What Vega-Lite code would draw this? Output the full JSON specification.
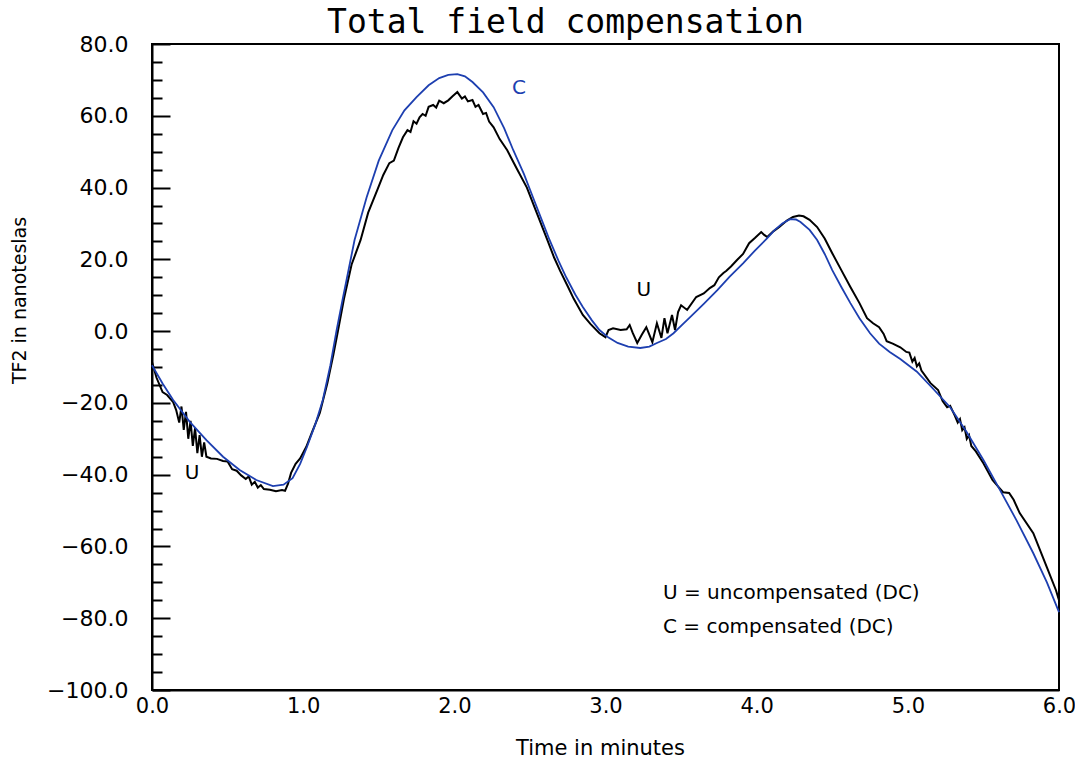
{
  "$schema": "https://vega.github.io/schema/vega-lite/v6.json",
  "width": 907,
  "height": 646,
  "autosize": {"type": "none"},
  "padding": {"left": 152, "top": 44, "right": 16, "bottom": 76},
  "background": "white",
  "config": {
    "view": {"stroke": "black", "strokeWidth": 2},
    "font": "DejaVu Sans"
  },
  "title": {
    "text": "Total field compensation",
    "fontSize": 33,
    "fontWeight": "normal",
    "font": "DejaVu Sans Mono",
    "color": "black",
    "anchor": "middle",
    "frame": "group",
    "baseline": "alphabetic",
    "offset": 11,
    "dy": 44,
    "dx": -40
  },
  "datasets": {
    "compensated": [
      {"t": 0.00, "v": -9.5}, {"t": 0.07, "v": -14.6}, {"t": 0.14, "v": -19.2}, {"t": 0.25, "v": -25.3},
      {"t": 0.36, "v": -30.4}, {"t": 0.47, "v": -35.0}, {"t": 0.58, "v": -38.7}, {"t": 0.69, "v": -41.5},
      {"t": 0.80, "v": -43.2}, {"t": 0.87, "v": -42.8}, {"t": 0.93, "v": -41.0}, {"t": 0.98, "v": -37.0},
      {"t": 1.025, "v": -32.3}, {"t": 1.08, "v": -26.0}, {"t": 1.13, "v": -19.2}, {"t": 1.18, "v": -9.5},
      {"t": 1.22, "v": 0.0}, {"t": 1.26, "v": 8.6}, {"t": 1.34, "v": 25.4}, {"t": 1.42, "v": 37.3},
      {"t": 1.50, "v": 47.5}, {"t": 1.59, "v": 56.0}, {"t": 1.67, "v": 61.5}, {"t": 1.75, "v": 65.2},
      {"t": 1.83, "v": 68.5}, {"t": 1.90, "v": 70.5}, {"t": 1.96, "v": 71.4}, {"t": 2.02, "v": 71.6},
      {"t": 2.07, "v": 71.0}, {"t": 2.12, "v": 69.4}, {"t": 2.19, "v": 66.5}, {"t": 2.26, "v": 62.4},
      {"t": 2.33, "v": 56.5}, {"t": 2.39, "v": 50.4}, {"t": 2.46, "v": 43.8}, {"t": 2.52, "v": 37.3},
      {"t": 2.58, "v": 30.8}, {"t": 2.63, "v": 25.4}, {"t": 2.69, "v": 19.5}, {"t": 2.74, "v": 15.0},
      {"t": 2.80, "v": 10.2}, {"t": 2.85, "v": 6.7}, {"t": 2.91, "v": 3.0}, {"t": 2.96, "v": 0.3},
      {"t": 3.02, "v": -1.8}, {"t": 3.08, "v": -3.3}, {"t": 3.15, "v": -4.3}, {"t": 3.23, "v": -4.7},
      {"t": 3.29, "v": -4.3}, {"t": 3.34, "v": -3.3}, {"t": 3.40, "v": -2.2}, {"t": 3.45, "v": -0.6},
      {"t": 3.51, "v": 1.9}, {"t": 3.56, "v": 3.9}, {"t": 3.65, "v": 7.6}, {"t": 3.74, "v": 11.4},
      {"t": 3.82, "v": 15.1}, {"t": 3.91, "v": 18.9}, {"t": 3.99, "v": 22.5}, {"t": 4.07, "v": 25.9},
      {"t": 4.12, "v": 28.2}, {"t": 4.17, "v": 30.0}, {"t": 4.22, "v": 31.2}, {"t": 4.26, "v": 31.1},
      {"t": 4.29, "v": 30.4}, {"t": 4.35, "v": 28.2}, {"t": 4.40, "v": 25.4}, {"t": 4.45, "v": 21.5},
      {"t": 4.50, "v": 17.0}, {"t": 4.56, "v": 12.3}, {"t": 4.62, "v": 7.8}, {"t": 4.68, "v": 3.6},
      {"t": 4.75, "v": -0.6}, {"t": 4.81, "v": -3.5}, {"t": 4.88, "v": -5.8}, {"t": 4.95, "v": -7.8},
      {"t": 5.06, "v": -11.3}, {"t": 5.17, "v": -16.2}, {"t": 5.28, "v": -21.2}, {"t": 5.39, "v": -28.2},
      {"t": 5.50, "v": -35.9}, {"t": 5.61, "v": -44.3}, {"t": 5.72, "v": -52.8}, {"t": 5.83, "v": -61.9},
      {"t": 5.92, "v": -70.0}, {"t": 6.00, "v": -78.3}
    ],
    "uncompensated": [
      {"t": 0.00, "v": -8.6}, {"t": 0.03, "v": -13.0}, {"t": 0.07, "v": -17.0}, {"t": 0.10, "v": -17.8},
      {"t": 0.14, "v": -19.8}, {"t": 0.16, "v": -22.0}, {"t": 0.18, "v": -25.5}, {"t": 0.195, "v": -21.0},
      {"t": 0.21, "v": -27.5}, {"t": 0.225, "v": -22.5}, {"t": 0.24, "v": -30.0}, {"t": 0.255, "v": -25.0},
      {"t": 0.27, "v": -32.0}, {"t": 0.285, "v": -27.0}, {"t": 0.30, "v": -34.0}, {"t": 0.315, "v": -29.0},
      {"t": 0.33, "v": -35.0}, {"t": 0.345, "v": -31.0}, {"t": 0.36, "v": -35.0}, {"t": 0.39, "v": -35.5},
      {"t": 0.43, "v": -35.6}, {"t": 0.47, "v": -36.2}, {"t": 0.50, "v": -36.3}, {"t": 0.53, "v": -38.5},
      {"t": 0.56, "v": -38.9}, {"t": 0.59, "v": -40.2}, {"t": 0.62, "v": -41.2}, {"t": 0.64, "v": -40.5},
      {"t": 0.66, "v": -42.8}, {"t": 0.68, "v": -42.0}, {"t": 0.70, "v": -43.6}, {"t": 0.72, "v": -42.9},
      {"t": 0.74, "v": -44.0}, {"t": 0.78, "v": -44.2}, {"t": 0.82, "v": -44.6}, {"t": 0.86, "v": -44.3},
      {"t": 0.88, "v": -44.5}, {"t": 0.90, "v": -42.5}, {"t": 0.92, "v": -39.5}, {"t": 0.95, "v": -37.0},
      {"t": 0.98, "v": -35.5}, {"t": 1.02, "v": -32.3}, {"t": 1.06, "v": -28.0}, {"t": 1.11, "v": -22.8},
      {"t": 1.16, "v": -14.5}, {"t": 1.20, "v": -6.5}, {"t": 1.23, "v": 0.0}, {"t": 1.27, "v": 9.0},
      {"t": 1.32, "v": 18.5}, {"t": 1.38, "v": 25.4}, {"t": 1.43, "v": 33.0}, {"t": 1.49, "v": 39.3},
      {"t": 1.53, "v": 43.5}, {"t": 1.57, "v": 46.8}, {"t": 1.60, "v": 47.5}, {"t": 1.63, "v": 51.0},
      {"t": 1.66, "v": 54.0}, {"t": 1.69, "v": 56.0}, {"t": 1.71, "v": 55.5}, {"t": 1.73, "v": 58.5},
      {"t": 1.75, "v": 57.8}, {"t": 1.77, "v": 59.6}, {"t": 1.79, "v": 60.5}, {"t": 1.81, "v": 60.0},
      {"t": 1.83, "v": 62.5}, {"t": 1.86, "v": 63.0}, {"t": 1.88, "v": 62.3}, {"t": 1.90, "v": 64.2},
      {"t": 1.93, "v": 63.5}, {"t": 1.96, "v": 64.3}, {"t": 1.99, "v": 65.5}, {"t": 2.02, "v": 66.6},
      {"t": 2.05, "v": 64.8}, {"t": 2.07, "v": 65.4}, {"t": 2.09, "v": 64.0}, {"t": 2.12, "v": 64.4},
      {"t": 2.14, "v": 62.5}, {"t": 2.16, "v": 63.0}, {"t": 2.19, "v": 60.5}, {"t": 2.21, "v": 60.8},
      {"t": 2.23, "v": 58.4}, {"t": 2.26, "v": 56.8}, {"t": 2.30, "v": 53.5}, {"t": 2.35, "v": 50.4},
      {"t": 2.41, "v": 45.5}, {"t": 2.48, "v": 40.0}, {"t": 2.54, "v": 33.5}, {"t": 2.61, "v": 26.0},
      {"t": 2.66, "v": 20.5}, {"t": 2.70, "v": 16.8}, {"t": 2.75, "v": 12.5}, {"t": 2.79, "v": 9.0},
      {"t": 2.85, "v": 4.5}, {"t": 2.90, "v": 2.0}, {"t": 2.96, "v": -0.6}, {"t": 3.00, "v": -1.7},
      {"t": 3.02, "v": 0.3}, {"t": 3.05, "v": 0.8}, {"t": 3.10, "v": 0.3}, {"t": 3.14, "v": 0.5},
      {"t": 3.16, "v": 1.7}, {"t": 3.18, "v": -0.5}, {"t": 3.21, "v": -3.3}, {"t": 3.24, "v": -1.0},
      {"t": 3.27, "v": 1.1}, {"t": 3.31, "v": -3.1}, {"t": 3.34, "v": 2.2}, {"t": 3.37, "v": -1.9},
      {"t": 3.39, "v": 3.6}, {"t": 3.41, "v": -0.6}, {"t": 3.44, "v": 4.5}, {"t": 3.46, "v": 0.3},
      {"t": 3.48, "v": 5.3}, {"t": 3.50, "v": 7.2}, {"t": 3.54, "v": 5.9}, {"t": 3.60, "v": 9.5},
      {"t": 3.65, "v": 10.5}, {"t": 3.69, "v": 12.0}, {"t": 3.72, "v": 12.8}, {"t": 3.75, "v": 15.0},
      {"t": 3.78, "v": 16.2}, {"t": 3.80, "v": 16.8}, {"t": 3.83, "v": 18.0}, {"t": 3.87, "v": 19.8},
      {"t": 3.91, "v": 21.5}, {"t": 3.95, "v": 24.5}, {"t": 3.99, "v": 26.0}, {"t": 4.03, "v": 27.6},
      {"t": 4.05, "v": 26.8}, {"t": 4.07, "v": 26.2}, {"t": 4.11, "v": 27.8}, {"t": 4.15, "v": 29.0},
      {"t": 4.20, "v": 30.8}, {"t": 4.24, "v": 31.8}, {"t": 4.28, "v": 32.2}, {"t": 4.31, "v": 32.0},
      {"t": 4.35, "v": 31.0}, {"t": 4.40, "v": 29.0}, {"t": 4.45, "v": 25.8}, {"t": 4.50, "v": 21.7},
      {"t": 4.56, "v": 17.0}, {"t": 4.62, "v": 12.3}, {"t": 4.68, "v": 7.8}, {"t": 4.73, "v": 3.6},
      {"t": 4.77, "v": 2.2}, {"t": 4.81, "v": 1.1}, {"t": 4.84, "v": -0.8}, {"t": 4.86, "v": -2.8},
      {"t": 4.90, "v": -3.5}, {"t": 4.95, "v": -4.5}, {"t": 4.99, "v": -5.8}, {"t": 5.01, "v": -6.0},
      {"t": 5.03, "v": -8.5}, {"t": 5.045, "v": -7.5}, {"t": 5.06, "v": -9.8}, {"t": 5.075, "v": -9.0},
      {"t": 5.09, "v": -11.0}, {"t": 5.15, "v": -14.5}, {"t": 5.20, "v": -16.4}, {"t": 5.23, "v": -19.5},
      {"t": 5.26, "v": -21.2}, {"t": 5.28, "v": -20.8}, {"t": 5.31, "v": -23.5}, {"t": 5.33, "v": -25.5},
      {"t": 5.345, "v": -24.5}, {"t": 5.36, "v": -27.6}, {"t": 5.375, "v": -26.8}, {"t": 5.39, "v": -30.0},
      {"t": 5.405, "v": -29.0}, {"t": 5.42, "v": -32.0}, {"t": 5.45, "v": -33.5}, {"t": 5.50, "v": -36.8},
      {"t": 5.56, "v": -41.5}, {"t": 5.63, "v": -44.9}, {"t": 5.67, "v": -45.1}, {"t": 5.70, "v": -47.0},
      {"t": 5.74, "v": -50.7}, {"t": 5.83, "v": -56.3}, {"t": 5.92, "v": -65.8}, {"t": 5.98, "v": -72.2},
      {"t": 6.00, "v": -75.0}
    ],
    "zeroticks": [{"t": 1}, {"t": 2}, {"t": 3}, {"t": 4}, {"t": 5}],
    "labels": [
      {"t": 0.265, "v": -39.6, "text": "U", "series": "U"},
      {"t": 3.254, "v": 11.4, "text": "U", "series": "U"},
      {"t": 2.427, "v": 67.7, "text": "C", "series": "C"}
    ],
    "legendtext": [
      {"t": 3.38, "v": -73.0, "text": "U = uncompensated (DC)"},
      {"t": 3.38, "v": -82.5, "text": "C = compensated (DC)"}
    ]
  },
  "encoding": {
    "x": {
      "field": "t", "type": "quantitative",
      "scale": {"domain": [0, 6], "nice": false, "zero": false},
      "axis": {
        "title": "Time in minutes",
        "values": [0, 1, 2, 3, 4, 5, 6],
        "format": ".1f",
        "grid": false,
        "ticks": false,
        "domainColor": "black",
        "domainWidth": 2,
        "labelFont": "DejaVu Sans",
        "labelFontSize": 21,
        "labelColor": "black",
        "labelPadding": 5,
        "labelFlush": false,
        "titleFont": "DejaVu Sans",
        "titleFontSize": 21,
        "titleFontWeight": "normal",
        "titleColor": "black",
        "titleX": 448,
        "titleY": 47,
        "titleBaseline": "top"
      }
    },
    "y": {
      "field": "v", "type": "quantitative",
      "scale": {"domain": [-100, 80], "nice": false, "zero": false},
      "axis": {
        "title": "TF2 in nanoteslas",
        "values": [-100, -95, -90, -85, -80, -75, -70, -65, -60, -55, -50, -45, -40, -35, -30, -25, -20, -15, -10, -5, 0, 5, 10, 15, 20, 25, 30, 35, 40, 45, 50, 55, 60, 65, 70, 75, 80],
        "labelExpr": "datum.value % 20 === 0 ? format(datum.value, '.1f') : ''",
        "grid": false,
        "tickColor": "black",
        "tickWidth": 2,
        "tickSize": {"condition": {"test": "datum.value % 20 === 0", "value": -18}, "value": -10},
        "domainColor": "black",
        "domainWidth": 2,
        "labelFont": "DejaVu Sans",
        "labelFontSize": 22,
        "labelColor": "black",
        "labelPadding": 42,
        "labelFlush": false,
        "labelOverlap": false,
        "titleFont": "DejaVu Sans",
        "titleFontSize": 19,
        "titleFontWeight": "normal",
        "titleColor": "black",
        "titleX": -123,
        "titleY": 256
      }
    }
  },
  "layer": [
    {
      "mark": {"type": "rule", "color": "black", "strokeWidth": 1.8},
      "encoding": {"y": {"datum": 0}, "x": null}
    },
    {
      "data": {"name": "zeroticks"},
      "mark": {"type": "tick", "orient": "vertical", "color": "black", "size": 26, "thickness": 1.8},
      "encoding": {"y": {"datum": 0}}
    },
    {
      "data": {"name": "uncompensated"},
      "mark": {"type": "line", "color": "black", "strokeWidth": 2, "clip": false}
    },
    {
      "data": {"name": "compensated"},
      "mark": {"type": "line", "color": "#1d3fb0", "strokeWidth": 1.8, "clip": false}
    },
    {
      "data": {"name": "labels"},
      "mark": {"type": "text", "font": "DejaVu Sans", "fontSize": 20, "baseline": "middle", "align": "center"},
      "encoding": {
        "text": {"field": "text"},
        "color": {"field": "series", "type": "nominal", "scale": {"domain": ["U", "C"], "range": ["black", "#1d3fb0"]}, "legend": null}
      }
    },
    {
      "data": {"name": "legendtext"},
      "mark": {"type": "text", "font": "DejaVu Sans", "fontSize": 20, "baseline": "middle", "align": "left", "color": "black"},
      "encoding": {"text": {"field": "text"}}
    }
  ]
}
